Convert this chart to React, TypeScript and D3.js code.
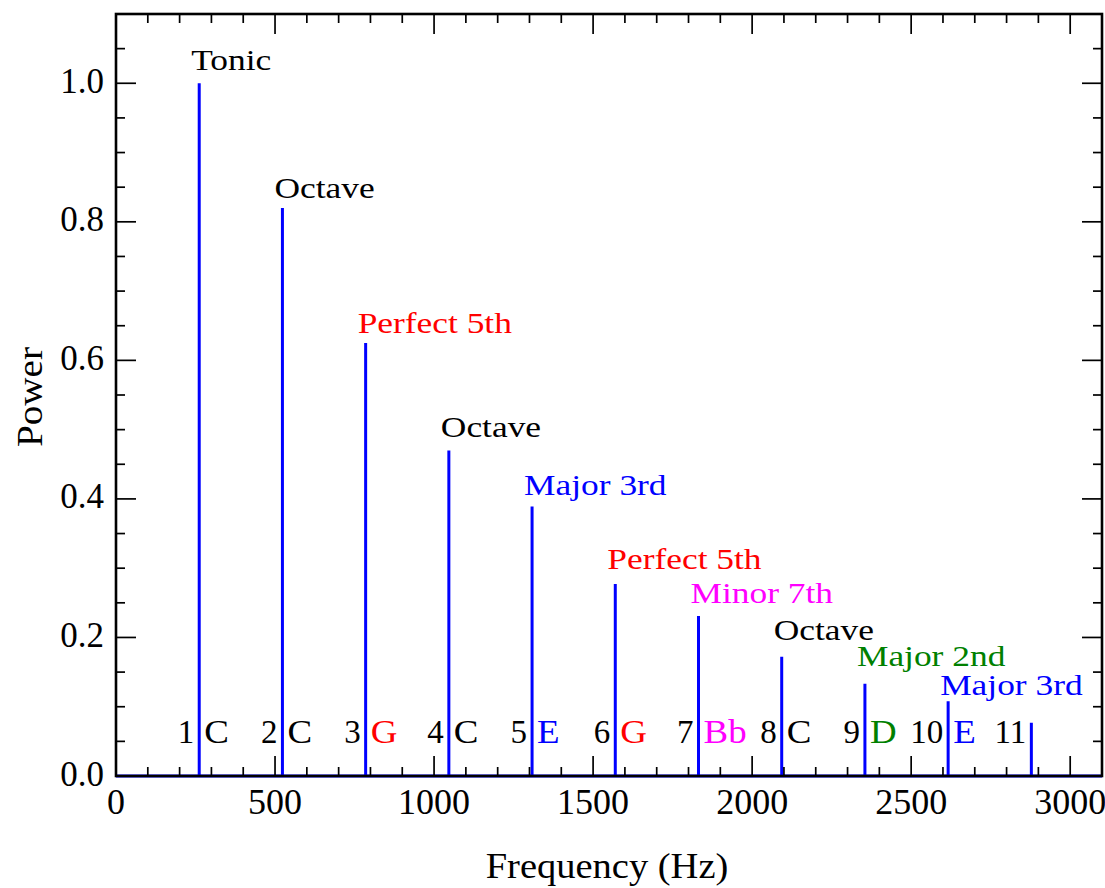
import React from "react";
import * as d3 from "d3";

const harmonicNumbers = [1, 2, 3, 4, 5, 6, 7, 8, 9, 10, 11];
const frequencies = [261.63, 523.25, 784.88, 1046.5, 1308.13, 1569.75, 1831.38, 2093.0, 2354.63, 2616.25, 2877.88];
const powers = [1.0, 0.82, 0.625, 0.47, 0.389, 0.277, 0.231, 0.172, 0.133, 0.108, 0.077];
const intervalNames = ["Tonic", "Octave", "Perfect 5th", "Octave", "Major 3rd", "Perfect 5th", "Minor 7th", "Octave", "Major 2nd", "Major 3rd", ""];
const intervalLabelY = [1.019, 0.835, 0.64, 0.49, 0.406, 0.299, 0.25, 0.197, 0.159, 0.117, 0];
const noteNames = ["C", "C", "G", "C", "E", "G", "Bb", "C", "D", "E", ""];
const noteColors = ["black", "black", "red", "black", "blue", "red", "magenta", "black", "green", "blue", "black"];
const noteLabelY = 0.047;
const xTicks = [0, 500, 1000, 1500, 2000, 2500, 3000];
const yTicks = [0.0, 0.2, 0.4, 0.6, 0.8, 1.0];

const W = 1105, H = 888;
const L = 116, R = 1102, T = 14, B = 776;
const FONT = "'Liberation Serif', 'Times New Roman', serif";
const SX = 1.18;

export default function App() {
  const x = d3.scaleLinear().domain([0, 3100]).range([L, R]);
  const y = d3.scaleLinear().domain([0, 1.1]).range([B, T]);
  const xMinor = d3.range(0, 3101, 100);
  const yMinor = d3.range(0, 1.1001, 0.05);
  const MAJ = 20, MIN = 9;

  const line = d3.line<[number, number]>().x(d => x(d[0])).y(d => y(d[1]));
  const pts: [number, number][] = [[0, 0]];
  frequencies.forEach((f, i) => {
    pts.push([f, 0], [f, powers[i]], [f, 0]);
  });
  pts.push([3100, 0]);

  return (
    <svg width={W} height={H} style={{ position: "absolute", left: 0, top: 0, background: "white" }} fontFamily={FONT}>
      <rect x={0} y={0} width={W} height={H} fill="white" />
      <path d={line(pts) || ""} fill="none" stroke="#0000ff" strokeWidth={3} strokeLinejoin="miter" />
      <g stroke="black" strokeWidth={1.7}>
        {xMinor.map(v => {
          const major = v % 500 === 0;
          const len = major ? MAJ : MIN;
          return (
            <g key={"xm" + v}>
              <line x1={x(v)} x2={x(v)} y1={B} y2={B - len} />
              <line x1={x(v)} x2={x(v)} y1={T} y2={T + len} />
            </g>
          );
        })}
        {yMinor.map((v, i) => {
          const major = i % 4 === 0;
          const len = major ? MAJ : MIN;
          return (
            <g key={"ym" + i}>
              <line x1={L} x2={L + len} y1={y(v)} y2={y(v)} />
              <line x1={R} x2={R - len} y1={y(v)} y2={y(v)} />
            </g>
          );
        })}
      </g>
      <rect x={L} y={T} width={R - L} height={B - T} fill="none" stroke="black" strokeWidth={2.6} />
      {xTicks.map(v => (
        <text key={"xl" + v} x={x(v)} y={814} fontSize={36} textAnchor="middle">{v}</text>
      ))}
      {yTicks.map(v => (
        <text key={"yl" + v} x={104} y={y(v) + 9.5} fontSize={35} textAnchor="end">{v.toFixed(1)}</text>
      ))}
      <text transform={`translate(607,878) scale(1.1,1)`} fontSize={35} textAnchor="middle">Frequency (Hz)</text>
      <text transform={`translate(42,397) rotate(-90) scale(1.12,1)`} fontSize={35} textAnchor="middle">Power</text>
      {frequencies.map((f, i) => intervalNames[i] ? (
        <text key={"in" + i} transform={`translate(${x(f) - 8},${y(intervalLabelY[i])}) scale(${SX},1)`} fontSize={30} fill={noteColors[i]}>{intervalNames[i]}</text>
      ) : null)}
      {frequencies.map((f, i) => (
        <g key={"hn" + i}>
          <text x={x(f) - 5} y={y(noteLabelY)} fontSize={33} textAnchor="end">{harmonicNumbers[i]}</text>
          {noteNames[i] ? (
            <text transform={`translate(${x(f) + 5},${y(noteLabelY)}) scale(1.12,1)`} fontSize={33} fill={noteColors[i]}>{noteNames[i]}</text>
          ) : null}
        </g>
      ))}
    </svg>
  );
}
